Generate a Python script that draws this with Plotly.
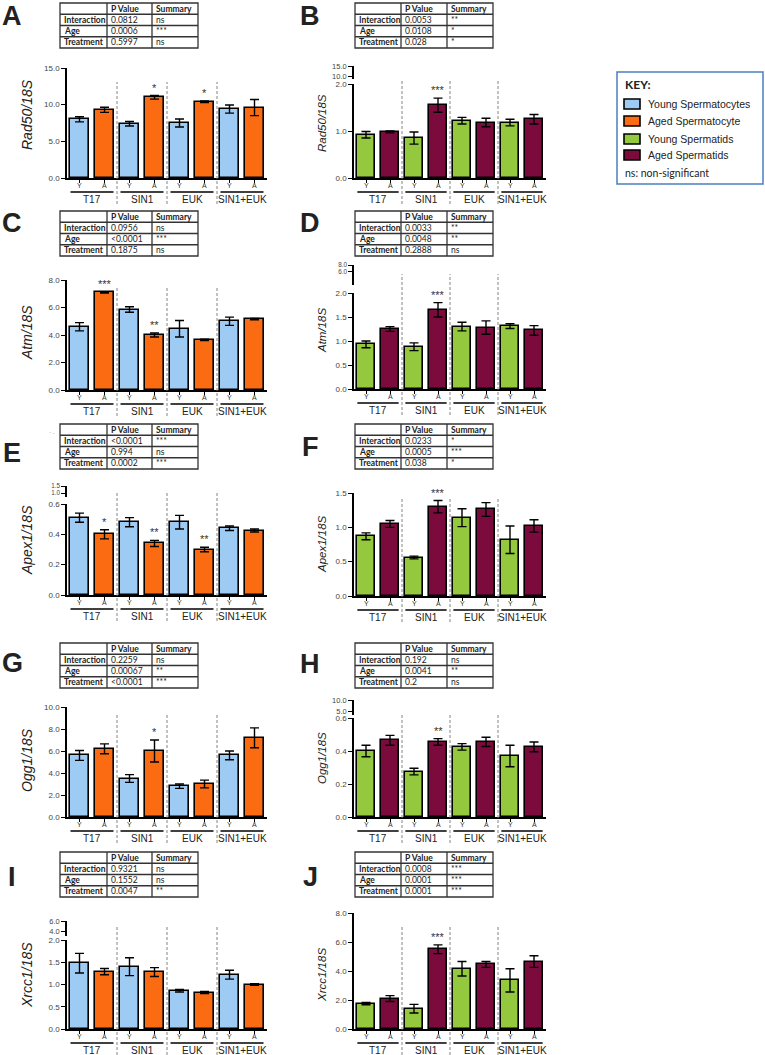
import plotly.graph_objects as go

W, H = 765, 1055

# ---------------- data ----------------
groups = ["T17", "SIN1", "EUK", "SIN1+EUK"]
ages = ["Y", "A"]
stat_rows = ["Interaction", "Age", "Treatment"]
key_labels = ["Young Spermatocytes", "Aged Spermatocyte", "Young Spermatids", "Aged Spermatids"]

# bar order: T17-Y, T17-A, SIN1-Y, SIN1-A, EUK-Y, EUK-A, SIN1+EUK-Y, SIN1+EUK-A
A_mean = [8.0, 9.3, 7.4, 11.0, 7.5, 10.4, 9.4, 9.6]
A_err = [0.35, 0.35, 0.3, 0.25, 0.55, 0.1, 0.55, 1.1]
A_star = ["", "", "", "*", "", "*", "", ""]
A_p = ["0.0812", "0.0006", "0.5997"]
A_s = ["ns", "***", "ns"]

B_mean = [0.92, 0.98, 0.85, 1.55, 1.22, 1.18, 1.18, 1.25]
B_err = [0.07, 0.02, 0.13, 0.15, 0.07, 0.09, 0.07, 0.1]
B_star = ["", "", "", "***", "", "", "", ""]
B_p = ["0.0053", "0.0108", "0.028"]
B_s = ["**", "*", "*"]

C_mean = [4.6, 7.1, 5.85, 4.0, 4.45, 3.65, 5.0, 5.15]
C_err = [0.3, 0.05, 0.2, 0.15, 0.6, 0.05, 0.3, 0.05]
C_star = ["", "***", "", "**", "", "", "", ""]
C_p = ["0.0956", "<0.0001", "0.1875"]
C_s = ["ns", "***", "ns"]

D_mean = [0.93, 1.25, 0.88, 1.65, 1.30, 1.28, 1.31, 1.22]
D_err = [0.07, 0.05, 0.08, 0.15, 0.09, 0.14, 0.05, 0.1]
D_star = ["", "", "", "***", "", "", "", ""]
D_p = ["0.0033", "0.0048", "0.2888"]
D_s = ["**", "**", "ns"]

E_mean = [0.51, 0.40, 0.48, 0.34, 0.48, 0.30, 0.44, 0.425]
E_err = [0.03, 0.03, 0.03, 0.02, 0.045, 0.015, 0.015, 0.01]
E_star = ["", "*", "", "**", "", "**", "", ""]
E_p = ["<0.0001", "0.994", "0.0002"]
E_s = ["***", "ns", "***"]

F_mean = [0.87, 1.05, 0.56, 1.30, 1.14, 1.26, 0.82, 1.02]
F_err = [0.05, 0.05, 0.02, 0.09, 0.13, 0.1, 0.2, 0.09]
F_star = ["", "", "", "***", "", "", "", ""]
F_p = ["0.0233", "0.0005", "0.038"]
F_s = ["*", "***", "*"]

G_mean = [5.6, 6.2, 3.5, 6.0, 2.8, 3.0, 5.6, 7.2]
G_err = [0.45, 0.45, 0.35, 1.0, 0.2, 0.35, 0.4, 0.9]
G_star = ["", "", "", "*", "", "", "", ""]
G_p = ["0.2259", "0.00067", "<0.0001"]
G_s = ["ns", "**", "***"]

H_mean = [0.40, 0.465, 0.275, 0.455, 0.425, 0.455, 0.37, 0.425]
H_err = [0.035, 0.03, 0.02, 0.02, 0.02, 0.028, 0.065, 0.03]
H_star = ["", "", "", "**", "", "", "", ""]
H_p = ["0.192", "0.0041", "0.2"]
H_s = ["ns", "**", "ns"]

I_mean = [1.48, 1.29, 1.40, 1.28, 0.86, 0.82, 1.22, 1.0]
I_err = [0.22, 0.07, 0.2, 0.1, 0.03, 0.025, 0.1, 0.02]
I_star = ["", "", "", "", "", "", "", ""]
I_p = ["0.9321", "0.1552", "0.0047"]
I_s = ["ns", "ns", "**"]

J_mean = [1.75, 2.1, 1.4, 5.5, 4.15, 4.45, 3.35, 4.65]
J_err = [0.08, 0.2, 0.3, 0.3, 0.5, 0.2, 0.8, 0.4]
J_star = ["", "", "", "***", "", "", "", ""]
J_p = ["0.0008", "0.0001", "0.0001"]
J_s = ["***", "***", "***"]

# ---------------- styles ----------------
C_YCYTE = "#9dcbf3"
C_ACYTE = "#fb6b12"
C_YTID = "#94c83f"
C_ATID = "#7b0b3c"
AX_FONT = "Arial, Liberation Sans, sans-serif"
TB_FONT = "Lato, Open Sans, sans-serif"


def fx(p):
    return p / W


def fy(p):
    return 1 - p / H


def txt(x, y, text, size, family=AX_FONT, color="#222", xanchor="center", yanchor="middle", **kw):
    d = dict(x=x, y=y, xref="paper", yref="paper", text=text, showarrow=False, xanchor=xanchor,
             yanchor=yanchor, font=dict(family=family, size=size, color=color))
    d.update(kw)
    return d


LEFT = dict(x0=67, x1=267, cols=[60, 107, 152, 198], letter_x=12, label_x=27, label_size=14,
            colors=[C_YCYTE, C_ACYTE])
RIGHT = dict(x0=354, x1=546, cols=[355, 401, 447, 493], letter_x=310, label_x=322, label_size=11.5,
             colors=[C_YTID, C_ATID])

# upper (broken-axis) segment: (top px, bottom px, range, ticks, tick font size)
panels = [
    dict(letter="A", side=LEFT, mean=A_mean, err=A_err, star=A_star, p=A_p, s=A_s, ylabel="Rad50/18S",
         top=68, base=178, rng=[0, 15], ticks=[0, 5, 10, 15], upper=None, sep=82, label_y=115,
         table_top=3, letter_y=16),
    dict(letter="B", side=RIGHT, mean=B_mean, err=B_err, star=B_star, p=B_p, s=B_s, ylabel="Rad50/18S",
         top=84, base=178, rng=[0, 2], ticks=[0, 1, 2], upper=(66, 79, [8.5, 15], [10, 15], 7.5), sep=80,
         label_y=123, table_top=3, letter_y=16),
    dict(letter="C", side=LEFT, mean=C_mean, err=C_err, star=C_star, p=C_p, s=C_s, ylabel="Atm/18S",
         top=280, base=390, rng=[0, 8], ticks=[0, 2, 4, 6, 8], upper=None, sep=287, label_y=333,
         table_top=211, letter_y=223),
    dict(letter="D", side=RIGHT, mean=D_mean, err=D_err, star=D_star, p=D_p, s=D_s, ylabel="Atm/18S",
         top=293, base=389, rng=[0, 2], ticks=[0, 0.5, 1, 1.5, 2], upper=(265, 285, [2.0, 8], [6, 8], 6.3),
         sep=274, label_y=331, table_top=211, letter_y=223),
    dict(letter="E", side=LEFT, mean=E_mean, err=E_err, star=E_star, p=E_p, s=E_s, ylabel="Apex1/18S",
         top=504, base=595, rng=[0, 0.6], ticks=[0, 0.2, 0.4, 0.6],
         upper=(486, 497, [0.714, 1.5], [1.0, 1.5], 6.3),
         sep=493, label_y=540, table_top=424, letter_y=453),
    dict(letter="F", side=RIGHT, mean=F_mean, err=F_err, star=F_star, p=F_p, s=F_s, ylabel="Apex1/18S",
         top=493, base=596, rng=[0, 1.5], ticks=[0, 0.5, 1.0, 1.5], upper=None, sep=498, label_y=544,
         table_top=424, letter_y=447),
    dict(letter="G", side=LEFT, mean=G_mean, err=G_err, star=G_star, p=G_p, s=G_s, ylabel="Ogg1/18S",
         top=707, base=817, rng=[0, 10], ticks=[0, 2, 4, 6, 8, 10], upper=None, sep=713, label_y=760,
         table_top=643, letter_y=663),
    dict(letter="H", side=RIGHT, mean=H_mean, err=H_err, star=H_star, p=H_p, s=H_s, ylabel="Ogg1/18S",
         top=718, base=817, rng=[0, 0.6], ticks=[0, 0.2, 0.4, 0.6], upper=(700, 715, [3.2, 10], [5, 10], 7.5),
         sep=715, label_y=758, table_top=643, letter_y=664),
    dict(letter="I", side=LEFT, mean=I_mean, err=I_err, star=I_star, p=I_p, s=I_s, ylabel="Xrcc1/18S",
         top=940, base=1029, rng=[0, 2], ticks=[0, 0.5, 1, 1.5, 2], upper=(921, 936, [3, 6], [4, 6], 7.5),
         sep=927, label_y=975, table_top=852, letter_y=877),
    dict(letter="J", side=RIGHT, mean=J_mean, err=J_err, star=J_star, p=J_p, s=J_s, ylabel="Xrcc1/18S",
         top=913, base=1029, rng=[0, 8], ticks=[0, 2, 4, 6, 8], upper=None, sep=927, label_y=975,
         table_top=852, letter_y=877),
]

fig = go.Figure()
shapes, annos, layout = [], [], {}

yaxis_common = dict(showline=True, linecolor="black", linewidth=1.6, ticks="outside", ticklen=4,
                    tickwidth=1.4, tickcolor="black", showgrid=False, zeroline=False, fixedrange=True,
                    automargin=False, tickfont=dict(family=AX_FONT, size=8, color="#444"))

upper_idx = 11
for i, pn in enumerate(panels):
    n = i + 1
    sd = pn["side"]
    xa = "x" if n == 1 else f"x{n}"
    ya = "y" if n == 1 else f"y{n}"
    xkey = "xaxis" if n == 1 else f"xaxis{n}"
    ykey = "yaxis" if n == 1 else f"yaxis{n}"
    xs = list(range(8))
    colors = [sd["colors"][k % 2] for k in range(8)]

    fig.add_trace(go.Bar(
        x=xs, y=pn["mean"], width=0.76, xaxis=xa, yaxis=ya,
        marker=dict(color=colors, line=dict(color="black", width=1.6)),
        error_y=dict(type="data", array=pn["err"], visible=True, color="black", thickness=1.4, width=4.5),
        showlegend=False, hoverinfo="skip"))

    layout[xkey] = dict(domain=[fx(sd["x0"]), fx(sd["x1"])], anchor=ya, range=[-0.5, 7.5],
                        tickvals=xs, ticktext=[""] * 8, ticks="outside", ticklen=3, tickwidth=1,
                        tickcolor="black", showline=True, linecolor="black", linewidth=1.6,
                        showgrid=False, zeroline=False, fixedrange=True, automargin=False)
    lo, hi = pn["rng"]
    layout[ykey] = dict(yaxis_common, domain=[fy(pn["base"]), fy(pn["top"])], anchor=xa,
                        range=[lo, hi], tickvals=pn["ticks"],
                        ticktext=[f"{t:.1f}" for t in pn["ticks"]])

    if pn["upper"] is not None:
        ut, ub, urng, utk, ufs = pn["upper"]
        uname = f"y{upper_idx}"
        ukey = f"yaxis{upper_idx}"
        layout[ukey] = dict(yaxis_common, domain=[fy(ub), fy(ut)], anchor=xa, range=urng,
                            tickvals=utk, ticktext=[f"{t:.1f}" for t in utk],
                            tickfont=dict(family=AX_FONT, size=ufs, color="#444"))
        fig.add_trace(go.Scatter(x=[None], y=[None], xaxis=xa, yaxis=uname, showlegend=False,
                                 hoverinfo="skip", mode="markers"))
        upper_idx += 1

    # significance stars
    for k in range(8):
        if pn["star"][k]:
            annos.append(dict(x=k, y=pn["mean"][k] + pn["err"][k], xref=xa, yref=ya, text=pn["star"][k],
                              showarrow=False, xanchor="center", yanchor="bottom", yshift=0,
                              font=dict(family=AX_FONT, size=11, color="#333")))

    b = pn["base"]
    # Y / A tick labels
    for k in range(8):
        annos.append(dict(x=k, y=fy(b + 7.5), xref=xa, yref="paper", text=ages[k % 2], showarrow=False,
                          xanchor="center", yanchor="middle",
                          font=dict(family=AX_FONT, size=7, color="#333")))
    # group underline + labels
    for g, gname in enumerate(groups):
        shapes.append(dict(type="line", xref=xa, yref="paper", x0=2 * g - 0.36, x1=2 * g + 1.36,
                           y0=fy(b + 14), y1=fy(b + 14), line=dict(color="black", width=1.4)))
        annos.append(dict(x=2 * g + 0.5, y=fy(b + 21.5), xref=xa, yref="paper", text=gname, showarrow=False,
                          xanchor="center", yanchor="middle",
                          font=dict(family=AX_FONT, size=10, color="#222")))
    # dashed separators
    for sx in (1.5, 3.5, 5.5):
        shapes.append(dict(type="line", xref=xa, yref="paper", x0=sx, x1=sx, y0=fy(b + 26), y1=fy(pn["sep"]),
                           line=dict(color="#777", width=0.9, dash="3px,2px")))

    # y-axis label
    annos.append(txt(fx(sd["label_x"]), fy(pn["label_y"]), f"<i>{pn['ylabel']}</i>", sd["label_size"],
                     textangle=-90))
    # panel letter
    annos.append(txt(fx(sd["letter_x"]), fy(pn["letter_y"]), f"<b>{pn['letter']}</b>", 27))

    # stats table
    cols = sd["cols"]
    t0 = pn["table_top"]
    rh = 11.25
    tb = t0 + 4 * rh
    shapes.append(dict(type="rect", xref="paper", yref="paper", x0=fx(cols[0]), x1=fx(cols[3]),
                       y0=fy(tb), y1=fy(t0), line=dict(color="#333", width=1.3)))
    for cx in cols[1:3]:
        shapes.append(dict(type="line", xref="paper", yref="paper", x0=fx(cx), x1=fx(cx), y0=fy(tb),
                           y1=fy(t0), line=dict(color="#333", width=1.3)))
    for r in range(1, 4):
        ry = t0 + r * rh
        shapes.append(dict(type="line", xref="paper", yref="paper", x0=fx(cols[0]), x1=fx(cols[3]),
                           y0=fy(ry), y1=fy(ry), line=dict(color="#333", width=1.3)))
    cells = [["", "<b>P Value</b>", "<b>Summary</b>"]]
    for r in range(3):
        cells.append([f"<b>{stat_rows[r]}</b>", pn["p"][r], pn["s"][r]])
    for r in range(4):
        cy = t0 + (r + 0.5) * rh
        for c in range(3):
            if not cells[r][c]:
                continue
            annos.append(txt(fx(cols[c] + 2), fy(cy), cells[r][c], 8.5, family=TB_FONT, xanchor="left"))

# tiny stray dots near table E
annos.append(txt(fx(52), fy(432), "· .", 6, color="#555"))

# key box
shapes.append(dict(type="rect", xref="paper", yref="paper", x0=fx(617), x1=fx(763), y0=fy(184), y1=fy(72),
                   line=dict(color="#4a7fbf", width=1.5)))
annos.append(txt(fx(623), fy(84), "<b>KEY:</b>", 12, family=TB_FONT, xanchor="left"))
key_colors = [C_YCYTE, C_ACYTE, C_YTID, C_ATID]
key_rows = [104, 121, 139, 155]
for lab, col, ry in zip(key_labels, key_colors, key_rows):
    shapes.append(dict(type="rect", xref="paper", yref="paper", x0=fx(624), x1=fx(640), y0=fy(ry + 5),
                       y1=fy(ry - 5), fillcolor=col, line=dict(color="black", width=1.6)))
    annos.append(txt(fx(646), fy(ry), lab, 10.5, xanchor="left"))
annos.append(txt(fx(623), fy(173), "ns: non-significant", 10.5, family=TB_FONT, xanchor="left"))

fig.update_layout(template="none", width=W, height=H, margin=dict(l=0, r=0, t=0, b=0, pad=0),
                  paper_bgcolor="white", plot_bgcolor="white", shapes=shapes, annotations=annos,
                  showlegend=False, bargap=0, **layout)

fig.write_html("out.html", config={"displayModeBar": False},
               post_script="document.body.style.margin='0px';")
